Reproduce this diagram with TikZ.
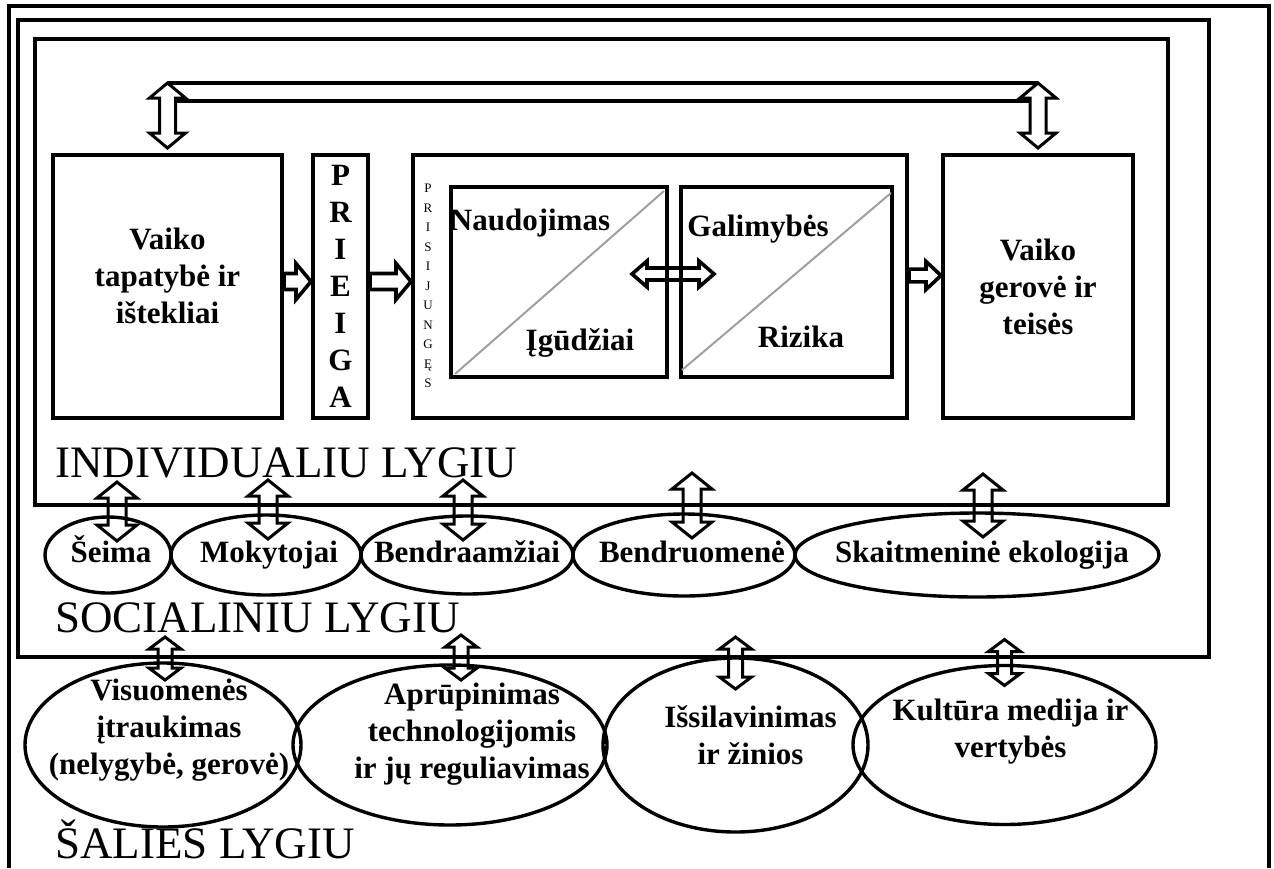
\documentclass[tikz,border=0pt]{standalone}
\usepackage{fontspec}
\setmainfont{Liberation Serif}
\usetikzlibrary{shapes.geometric, positioning, calc}
\newcommand{\lbfont}{\bfseries\fontsize{15.5}{18.5}\selectfont}
\tikzset{
    arrshaft/.store in=\arrshaft, arrshaft=4pt,
    arrhead/.store in=\arrhead, arrhead=9pt,
    arrlen/.store in=\arrlen, arrlen=7.5pt
}
\begin{document}
\begin{tikzpicture}[
        x=0.5pt, y=0.5pt,
        frame/.style={line width=1.7pt},
        box/.style={rectangle, draw, line width=2pt, minimum height=131.5pt, inner sep=0pt, align=center, font=\lbfont},
        oval/.style={ellipse, draw, line width=1.7pt, inner sep=0pt, outer sep=0pt},
        lbl/.style={align=center, inner sep=0pt, font=\lbfont},
        ovallbl/.style={lbl, text height=11pt, text depth=3.5pt},
        level/.style={anchor=base west, inner sep=0pt, font=\fontsize{22.5}{22.5}\selectfont},
        diag/.style={gray!75, line width=1pt},
        udarrow/.style={line width=1.5pt, to path={
            let \p1=(\tikztostart), \p2=(\tikztotarget) in
            (\x1,\y1) -- (\x1+\arrhead,\y1-\arrlen) -- (\x1+\arrshaft,\y1-\arrlen)
            -- (\x1+\arrshaft,\y2+\arrlen) -- (\x1+\arrhead,\y2+\arrlen) -- (\x1,\y2)
            -- (\x1-\arrhead,\y2+\arrlen) -- (\x1-\arrshaft,\y2+\arrlen)
            -- (\x1-\arrshaft,\y1-\arrlen) -- (\x1-\arrhead,\y1-\arrlen) -- cycle}},
        rarrow/.style={line width=1.8pt, to path={
            let \p1=(\tikztostart), \p2=(\tikztotarget) in
            (\x1,\y1+\arrshaft) -- (\x2-\arrlen,\y1+\arrshaft) -- (\x2-\arrlen,\y1+\arrhead) -- (\x2,\y1)
            -- (\x2-\arrlen,\y1-\arrhead) -- (\x2-\arrlen,\y1-\arrshaft) -- (\x1,\y1-\arrshaft) -- cycle}},
        lrarrow/.style={line width=1.8pt, to path={
            let \p1=(\tikztostart), \p2=(\tikztotarget) in
            (\x1,\y1) -- (\x1+\arrlen,\y1+\arrhead) -- (\x1+\arrlen,\y1+\arrshaft)
            -- (\x2-\arrlen,\y1+\arrshaft) -- (\x2-\arrlen,\y1+\arrhead) -- (\x2,\y1)
            -- (\x2-\arrlen,\y1-\arrhead) -- (\x2-\arrlen,\y1-\arrshaft)
            -- (\x1+\arrlen,\y1-\arrshaft) -- (\x1+\arrlen,\y1-\arrhead) -- cycle}}
    ]
        \useasboundingbox (0,0) rectangle (1274,-868);

        % Level frames
        \draw[frame] (9,-868) |- (1269,-6) -- (1269,-868);
        \draw[frame] (18,-20) rectangle (1209,-657);
        \draw[frame] (35,-39) rectangle (1168,-505);

        % Individual level boxes
        \node[box, minimum width=114.5pt] (tapat) at (167.5,-286.5) {};
        \node[lbl] (tapattxt) at ($(tapat)+(0,11)$) {Vaiko\\tapatybė ir\\ištekliai};
        \node[box, minimum width=27.5pt, right=13.5pt of tapat] (prieiga) {P\\R\\I\\E\\I\\G\\A};
        \node[box, minimum width=247pt, right=20.5pt of prieiga] (prisij) {};
        \node[box, minimum width=95pt, right=16pt of prisij] (gerove) {Vaiko\\gerovė ir\\teisės};
        \node[align=center, inner sep=0pt, font=\fontsize{6.5}{9.75}\selectfont] (prisijtxt) at (428,-286) {P\\R\\I\\S\\I\\J\\U\\N\\G\\Ę\\S};

        % Use / opportunities boxes
        \node[box, minimum width=108pt, minimum height=95pt] (nau) at (559,-282) {};
        \node[box, minimum width=105.5pt, minimum height=95pt, right=5pt of nau] (gal) {};
        \draw[diag] ([shift={(6,5)}]nau.south west) -- ([shift={(-5,-6)}]nau.north east);
        \draw[diag] ([shift={(3,9)}]gal.south west) -- ([shift={(-3,-8)}]gal.north east);
        \node[lbl] (naud) at ($(nau.center)+(-29,59)$) {Naudojimas};
        \node[lbl] (igud) at ($(nau.center)+(21,-61)$) {Įgūdžiai};
        \node[lbl] (galim) at ($(gal.center)+(-28.5,53)$) {Galimybės};
        \node[lbl] (rizika) at ($(gal.center)+(14.5,-55)$) {Rizika};

        % Social level ovals
        \node[oval, minimum width=63pt, minimum height=38pt] (seima) at (108,-555) {};
        \node[oval, minimum width=95pt, minimum height=40pt, right=0pt of seima] (mokyt) {};
        \node[oval, minimum width=106pt, minimum height=39pt, right=0pt of mokyt] (bendra) {};
        \node[oval, minimum width=111pt, minimum height=41pt, right=0pt of bendra] (bendruo) {};
        \node[oval, minimum width=182pt, minimum height=42pt, right=0pt of bendruo] (skait) {};
        \node[ovallbl] at ($(seima)+(3,0)$) {Šeima};
        \node[ovallbl] at ($(mokyt)+(3,0)$) {Mokytojai};
        \node[ovallbl] at (bendra) {Bendraamžiai};
        \node[ovallbl] at ($(bendruo)+(8,0)$) {Bendruomenė};
        \node[ovallbl] at ($(skait)+(5,0)$) {Skaitmeninė ekologija};

        % Country level ovals
        \node[oval, minimum width=138pt, minimum height=82pt] (visu) at (163,-745) {};
        \node[oval, minimum width=157pt, minimum height=80pt, right=-4pt of visu] (apru) {};
        \node[oval, minimum width=132.5pt, minimum height=87pt, right=-2pt of apru] (issil) {};
        \node[oval, minimum width=151.5pt, minimum height=79.5pt, right=-7.5pt of issil] (kult) {};
        \node[lbl] at ($(visu)+(6,15)$) {Visuomenės\\įtraukimas\\(nelygybė, gerovė)};
        \node[lbl] at ($(apru)+(22,11)$) {Aprūpinimas\\technologijomis\\ir jų reguliavimas};
        \node[lbl] at ($(issil)+(15,10)$) {Išsilavinimas\\ir žinios};
        \node[lbl] at ($(kult)+(6,13)$) {Kultūra medija ir\\vertybės};

        % Level labels
        \node[level] (indlvl) at (55,-477) {INDIVIDUALIU LYGIU};
        \node[level] (soclvl) at (55,-632) {SOCIALINIU LYGIU};
        \node[level] (shlvl) at (55,-858) {ŠALIES LYGIU};

        % Top link between identity and well-being
        \coordinate (busL) at ($(tapat.north)+(0,70)$);
        \coordinate (busR) at ($(gerove.north)+(0,70)$);
        \draw[frame] (busL) -- (busR);
        \draw[frame] ($(busL)+(8,-18)$) -- ($(busR)+(-8,-18)$);
        \draw[udarrow, fill=white] (busL) to ($(tapat.north)+(0,5)$);
        \draw[udarrow, fill=white] (busR) to ($(gerove.north)+(0,5)$);

        % Arrows along the row
        \draw[rarrow] ([yshift=2.5pt]tapat.east) to ([yshift=2.5pt]prieiga.west);
        \draw[rarrow] ([yshift=2.5pt]prieiga.east) to ([yshift=2.5pt]prisij.west);
        \draw[rarrow, arrhead=7pt, arrshaft=3.2pt] ([yshift=5.5pt]prisij.east) to ([yshift=5.5pt]gerove.west);
        \draw[lrarrow, arrhead=6.5pt, arrshaft=3pt] ($(nau.east)+(-37,8)$) to ($(gal.west)+(35,8)$);

        % Arrows between levels
        \foreach \n/\dx/\up in {seima/9/35, mokyt/2/35, bendra/-4/36, bendruo/8/41, skait/6/39}
            \draw[udarrow, arrhead=10pt, arrshaft=4.5pt, arrlen=8pt] ($(\n.north)+(\dx,\up)$) to ($(\n.north)+(\dx,-24)$);
        \foreach \n/\dx/\up/\dn in {visu/2/26/17, apru/11/30/15, issil/0/21/31, kult/0/26/20}
            \draw[udarrow, arrhead=8pt, arrshaft=3.5pt, arrlen=6pt] ($(\n.north)+(\dx,\up)$) to ($(\n.north)+(\dx,-\dn)$);
    \end{tikzpicture}
\end{document}
